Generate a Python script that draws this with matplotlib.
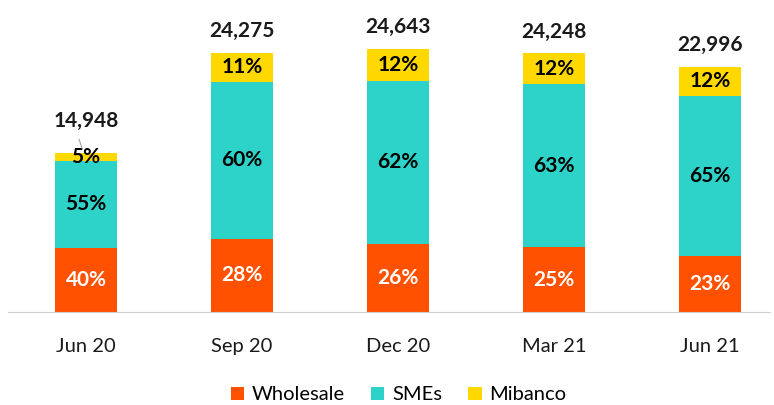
import numpy as np
import matplotlib
matplotlib.use('Agg')
import matplotlib.pyplot as plt

plt.rcParams['font.family'] = ['Lato', 'DejaVu Sans']

# data
periods = ['Jun 20', 'Sep 20', 'Dec 20', 'Mar 21', 'Jun 21']
totals = [14948, 24275, 24643, 24248, 22996]
wholesale_pct = [40, 28, 26, 25, 23]
smes_pct = [55, 60, 62, 63, 65]
mibanco_pct = [5, 11, 12, 12, 12]

series_names = ['Wholesale', 'SMEs', 'Mibanco']
colors = ['#FF5100', '#2DD2C8', '#FFD800']
label_colors = ['white', 'black', 'black']

pcts = np.array([wholesale_pct, smes_pct, mibanco_pct], dtype=float)
totals_arr = np.array(totals, dtype=float)
heights = pcts / pcts.sum(axis=0) * totals_arr

fig = plt.figure(figsize=(7.74, 4.05), dpi=100)
ax = fig.add_axes([8 / 774, 93 / 405, 762 / 774, 288 / 405])

x = np.arange(len(periods))
bottom = np.zeros(len(periods))
for i, name in enumerate(series_names):
    ax.bar(x, heights[i], 0.40, bottom=bottom, color=colors[i], label=name, zorder=2)
    for j in range(len(periods)):
        yc = bottom[j] + heights[i][j] / 2
        ax.text(x[j], yc, f"{int(pcts[i][j])}%", ha='center', va='center',
                fontsize=15, fontweight='bold', color=label_colors[i], zorder=3)
    bottom += heights[i]

for j in range(len(periods)):
    # first bar's label sits higher to make room for the leader line
    off = 2000 if j == 0 else 1100
    ax.text(x[j], totals[j] + off, f"{totals[j]:,}", ha='center', va='bottom',
            fontsize=15, fontweight='bold', color='#1a1a1a')

# leader line for the small first segment
ax.annotate('', xy=(x[0] - 0.02, totals[0] + 150), xytext=(x[0] - 0.05, totals[0] + 1500),
            arrowprops=dict(arrowstyle='-', color='#a0a0a0', lw=0.8), zorder=4)

ax.set_xlim(-0.5, 4.385)
ax.set_ylim(0, 27000)
ax.set_xticks(x)
ax.set_xticklabels(periods, fontsize=14.5, color='#1a1a1a')
ax.tick_params(axis='x', length=0, pad=19)
ax.set_yticks([])
for s in ['top', 'right', 'left']:
    ax.spines[s].set_visible(False)
ax.spines['bottom'].set_color('#d0d0d0')

leg = fig.legend(loc='center', bbox_to_anchor=(0.515, 0.025), ncol=3, frameon=False,
                 fontsize=14.5, handlelength=0.65, handleheight=0.65, handletextpad=0.4,
                 columnspacing=1.3)

fig.savefig('out.png', dpi=100)
